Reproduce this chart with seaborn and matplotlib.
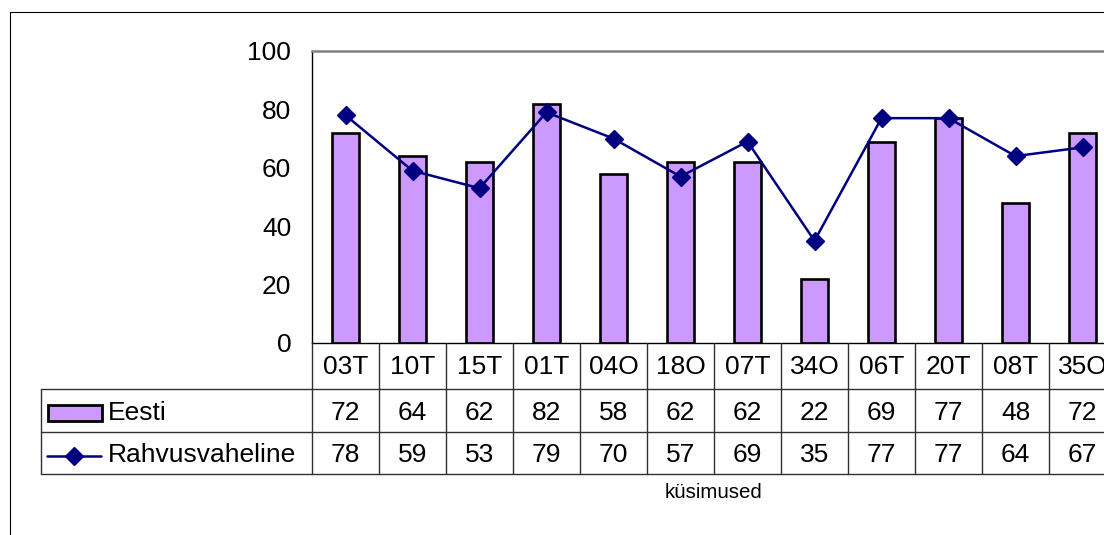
import numpy as np
import matplotlib
matplotlib.use("Agg")
import matplotlib.pyplot as plt
import matplotlib.transforms as mtransforms
from matplotlib.patches import Rectangle
from matplotlib.lines import Line2D
import seaborn as sns

# data
categories = ["03T", "10T", "15T", "01T", "04O", "18O", "07T", "34O", "06T", "20T", "08T", "35O"]
eesti = [72, 64, 62, 82, 58, 62, 62, 22, 69, 77, 48, 72]
rahvusvaheline = [78, 59, 53, 79, 70, 57, 69, 35, 77, 77, 64, 67]
yticks = [0, 20, 40, 60, 80, 100]

BAR = "#CC99FF"
LINE = "#000080"
GRID = "#303030"
FS = 19

sns.set_style("white")
plt.rcParams["font.family"] = ["Liberation Sans", "DejaVu Sans"]
plt.rcParams.update({"text.color": "black", "ytick.color": "black", "xtick.color": "black"})

W, H = 1104, 535
fig = plt.figure(figsize=(W / 100, H / 100), dpi=100)

# plot area (extends a bit past the right edge like the original)
left, right, top, bottom = 312, 1116, 51, 343
ax = fig.add_axes([left / W, (H - bottom) / H, (right - left) / W, (bottom - top) / H])
sns.barplot(x=categories, y=eesti, color=BAR, edgecolor="black", linewidth=1.9,
            width=0.41, saturation=1, ax=ax, zorder=2)
ax.plot(np.arange(len(categories)), rahvusvaheline, color=LINE, lw=1.8,
        marker="D", ms=9.5, mec=LINE, zorder=3, clip_on=False)
ax.set_xlim(-0.5, len(categories) - 0.5)
ax.set_ylim(0, 100)
ax.set_yticks(yticks)
ax.tick_params(axis="y", direction="inout", length=12, width=0.8, pad=9,
               labelsize=FS, colors="black")
ax.tick_params(axis="x", bottom=False, labelbottom=False)
ax.set_xlabel("")
ax.set_ylabel("")
for s in ["left", "bottom"]:
    ax.spines[s].set_color("black")
    ax.spines[s].set_linewidth(1)
ax.spines["top"].set_color("#808080")
ax.spines["top"].set_linewidth(1.8)
ax.spines["right"].set_visible(False)

# overlay in pixel coordinates for the data table and the frame
tax = fig.add_axes([0, 0, 1, 1], zorder=5)
tax.set_xlim(0, W)
tax.set_ylim(H, 0)
tax.axis("off")
tax.patch.set_alpha(0)
bt = mtransforms.blended_transform_factory(ax.transData, tax.transData)

# outer frame
tax.plot([9.5, 9.5], [11.5, H], color="black", lw=0.8)
tax.plot([9.5, W], [11.5, 11.5], color="black", lw=0.8)

# table grid
row_y = [343, 389, 432, 474]
for y in row_y[1:]:
    tax.plot([41, W], [y, y], color=GRID, lw=1)
tax.plot([41, 41], [row_y[1], row_y[3]], color=GRID, lw=1)
n = len(categories)
for k in range(n + 1):
    tax.plot([k - 0.5, k - 0.5], [row_y[0], row_y[3]], color=GRID, lw=1, transform=bt)

# table text
for i, (c, e, r) in enumerate(zip(categories, eesti, rahvusvaheline)):
    tax.text(i, 374.5, c, ha="center", va="baseline", fontsize=FS, transform=bt)
    tax.text(i, 420, str(e), ha="center", va="baseline", fontsize=FS, transform=bt)
    tax.text(i, 462.5, str(r), ha="center", va="baseline", fontsize=FS, transform=bt)

# legend keys in the table
tax.add_patch(Rectangle((47.5, 405), 54, 16, facecolor=BAR, edgecolor="black", lw=2))
tax.add_line(Line2D([47, 74, 101], [455.5, 455.5, 455.5], color=LINE, lw=1.8,
                    marker="D", ms=9.5, mec=LINE, markevery=[1]))
tax.text(108, 420, "Eesti", ha="left", va="baseline", fontsize=FS)
tax.text(108, 462.5, "Rahvusvaheline", ha="left", va="baseline", fontsize=FS)

# axis title
tax.text((n - 1) / 2, 498, "küsimused", ha="center", va="baseline", fontsize=14.8, transform=bt)

fig.savefig("out.png", dpi=100)
